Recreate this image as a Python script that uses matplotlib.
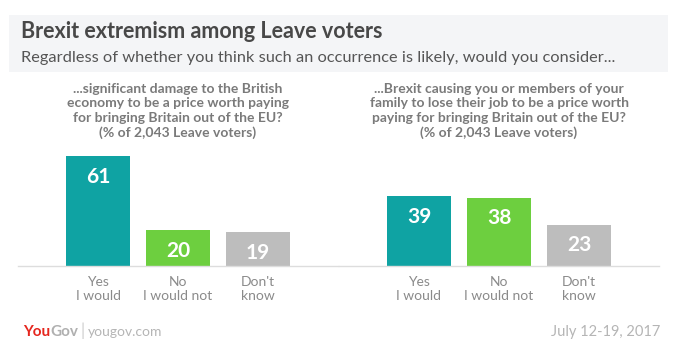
import matplotlib
matplotlib.use("Agg")
import matplotlib.pyplot as plt
from matplotlib.patches import Rectangle
from matplotlib.text import Annotation

plt.rcParams['font.family'] = ['Lato', 'DejaVu Sans']

# data
categories = ["Yes\nI would", "No\nI would not", "Don't\nknow"]
economy_vals = [61, 20, 19]
job_vals = [39, 38, 23]
bar_colors = ["#0fa3a3", "#6dcf3f", "#bdbdbd"]

title = "Brexit extremism among Leave voters"
subtitle = "Regardless of whether you think such an occurrence is likely, would you consider..."
left_q = ("...significant damage to the British\neconomy to be a price worth paying\n"
          "for bringing Britain out of the EU?\n(% of 2,043 Leave voters)")
right_q = ("...Brexit causing you or members of your\nfamily to lose their job to be a price worth\n"
           "paying for bringing Britain out of the EU?\n(% of 2,043 Leave voters)")
date_txt = "July 12-19, 2017"

W, H = 692, 352
fig = plt.figure(figsize=(W / 100, H / 100), dpi=100)
fig.patch.set_facecolor("white")

def fx(px):
    return px / W

def fy(py):
    return 1 - py / H

# header box
fig.patches.append(Rectangle((fx(9), fy(72)), fx(668 - 9), (72 - 15) / H,
                             transform=fig.transFigure, facecolor="#f4f5f7",
                             edgecolor="none", zorder=0))
fig.text(fx(21), fy(31), title, fontsize=15.5, fontweight="bold", color="#484848",
         va="center", ha="left")
fig.text(fx(21), fy(58), subtitle, fontsize=11.8, color="#555555", va="center", ha="left")


def panel(x0, x1, vals, question, qx):
    ax = fig.add_axes([fx(x0), fy(266), fx(x1 - x0), 180 / H])
    xs = range(len(vals))
    bars = ax.bar(xs, vals, width=0.8, color=bar_colors)
    ax.set_xlim(-1, 3)
    ax.set_ylim(0, 100)
    for b, v in zip(bars, vals):
        ax.annotate(str(v), (b.get_x() + b.get_width() / 2, v), xytext=(0, -15),
                    textcoords="offset points", ha="center", va="center",
                    fontsize=15, fontweight="bold", color="white")
    for s in ["top", "right", "left"]:
        ax.spines[s].set_visible(False)
    ax.spines["bottom"].set_color("#dddddd")
    ax.spines["bottom"].set_linewidth(1)
    ax.set_yticks([])
    ax.set_xticks(list(xs))
    ax.set_xticklabels(categories, fontsize=10, color="#8a8a8a", linespacing=1.25)
    ax.tick_params(axis="x", length=0, pad=7)
    ax.patch.set_alpha(0)
    fig.text(fx(qx), fy(111), question, fontsize=10, fontweight="bold",
             color="#7a7a7a", ha="center", va="center", linespacing=1.25)
    return ax


panel(18, 338, economy_vals, left_q, 178)
panel(339, 659, job_vals, right_q, 499)

# footer
you = fig.text(fx(23), fy(332), "You", fontsize=11, fontweight="bold", color="#e5261e",
               va="center", ha="left")
fig.add_artist(Annotation("Gov", xy=(1, 0.5), xycoords=you, va="center", ha="left",
                          fontsize=11, fontweight="bold", color="#b0b0b0"))
fig.text(fx(81), fy(331), "|", fontsize=12, color="#cccccc", va="center", ha="left")
fig.text(fx(88), fy(332), "yougov.com", fontsize=10, color="#b5b5b5",
         va="center", ha="left")
fig.text(fx(660), fy(332), date_txt, fontsize=10.5, color="#b5b5b5",
         va="center", ha="right")

fig.savefig("out.png", dpi=100)
